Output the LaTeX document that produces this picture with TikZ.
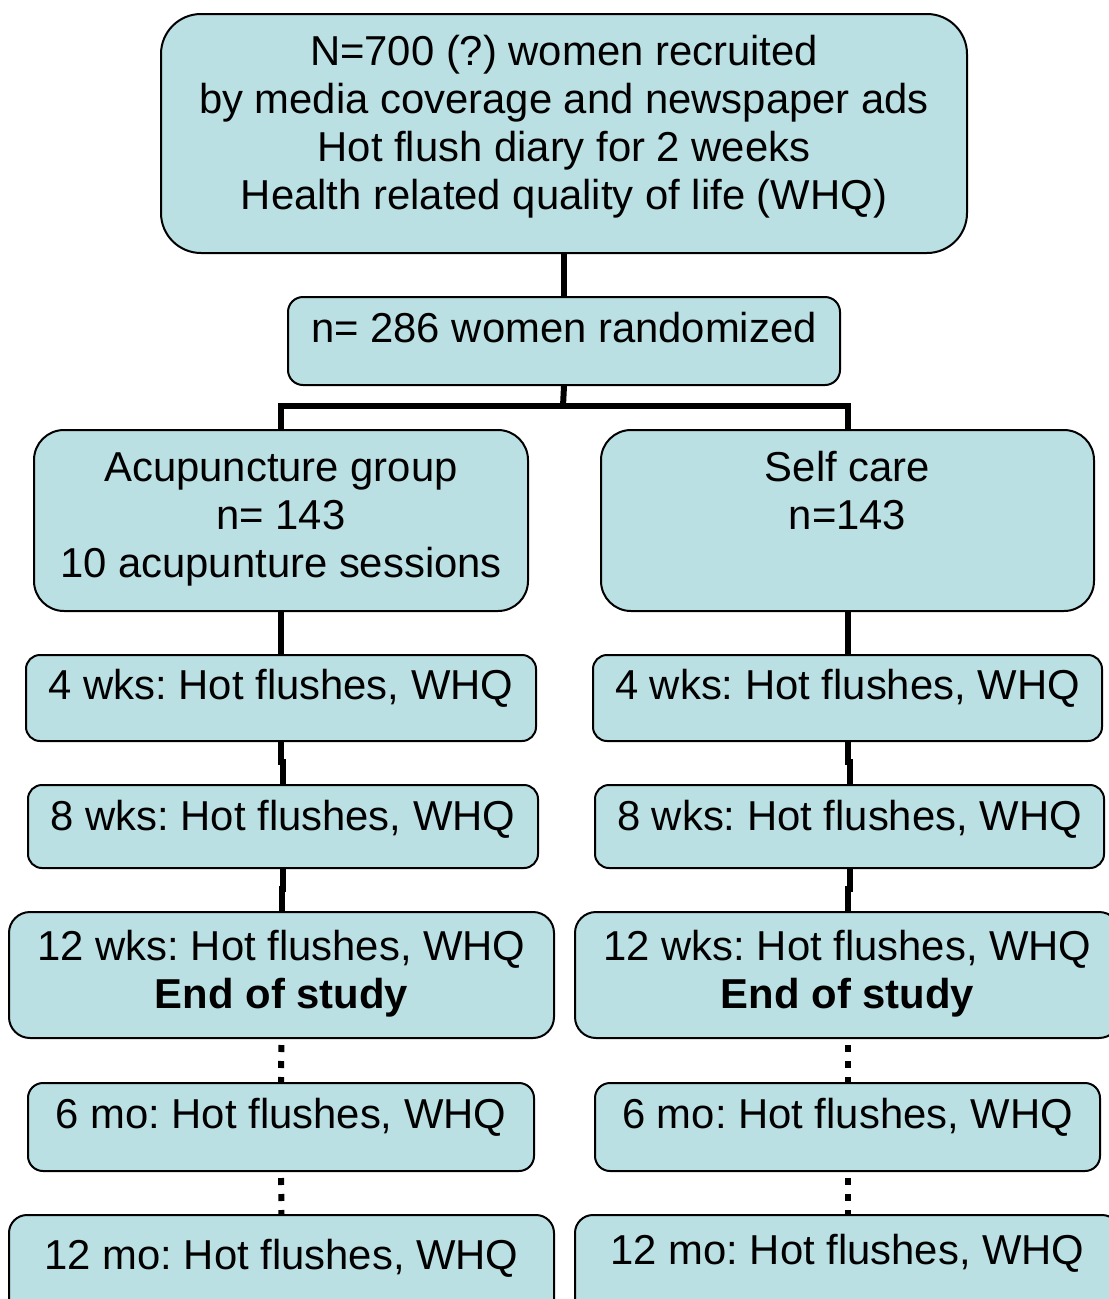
\documentclass[tikz,border=0pt]{standalone}
\usepackage{fontspec}
\setmainfont{Liberation Sans}
\usepackage{tikz}
\definecolor{boxfill}{RGB}{186,224,227}
\newlength{\px}
\setlength{\px}{0.02cm}
\newcommand{\boxtxt}[4]{\parbox[t][#2\px][t]{#1\px}{\centering\frenchspacing\vspace*{#3\px}\strut #4}}

\begin{document}
\begin{tikzpicture}[x=0.02cm,y=-0.02cm,
	box/.style={draw=black, fill=boxfill, line width=2\px, inner sep=0pt, anchor=north west, font=\fontsize{23.8}{27.3}\selectfont},
	thickline/.style={line width=6\px},
	dotline/.style={line width=6\px, dash pattern=on 0.14cm off 0.18cm, dash phase=0.2cm}]
	%\draw[help lines] (0,0) grid[step=100] (1100,1300);
	\useasboundingbox (0,0) rectangle (1109,1299);
	\node[box, rounded corners=40\px] (top) at (160,13) {\boxtxt{806}{239}{18}{N=700 (?) women recruited\\by media coverage and newspaper ads\\Hot flush diary for 2 weeks\\Health related quality of life (WHQ)}};
	\node[box, rounded corners=15\px] (rand) at (287,296) {\boxtxt{552}{88}{12}{n= 286 women randomized}};
	\node[box, rounded corners=30\px] (acu) at (33,429) {\boxtxt{494}{181}{18}{Acupuncture group\\n= 143\\10 acupunture sessions}};
	\node[box, rounded corners=30\px] (self) at (600,429) {\boxtxt{493}{181}{18}{Self care\\n=143}};
	\node[box, rounded corners=14\px] (w4L) at (25,654) {\boxtxt{510}{86}{11}{4 wks: Hot flushes, WHQ}};
	\node[box, rounded corners=14\px] (w4R) at (592,654) {\boxtxt{509}{86}{11}{4 wks: Hot flushes, WHQ}};
	\node[box, rounded corners=14\px] (w8L) at (27,784) {\boxtxt{510}{83}{12}{8 wks: Hot flushes, WHQ}};
	\node[box, rounded corners=14\px] (w8R) at (594,784) {\boxtxt{509}{83}{12}{8 wks: Hot flushes, WHQ}};
	\node[box, rounded corners=21\px] (w12L) at (8,911) {\boxtxt{545}{126}{15}{12 wks: Hot flushes, WHQ\\\textbf{End of study}}};
	\node[box, rounded corners=21\px] (w12R) at (574,911) {\boxtxt{545}{126}{15}{12 wks: Hot flushes, WHQ\\\textbf{End of study}}};
	\node[box, rounded corners=15\px] (m6L) at (27,1082) {\boxtxt{506}{88}{12}{6 mo: Hot flushes, WHQ}};
	\node[box, rounded corners=15\px] (m6R) at (594,1082) {\boxtxt{505}{88}{12}{6 mo: Hot flushes, WHQ}};
	\node[box, rounded corners=18\px] (m12L) at (8,1214) {\boxtxt{545}{110}{21}{12 mo: Hot flushes, WHQ}};
	\node[box, rounded corners=18\px] (m12R) at (574,1214) {\boxtxt{545}{110}{16}{12 mo: Hot flushes, WHQ}};
	\coordinate (split) at (563,406);
	\draw[thickline] (top.south) -- (rand.north);
	\draw[thickline] (rand.south) -- (split);
	\draw[thickline] (acu.north) |- (split) -| (self.north);
	\draw[thickline] (acu.south) -- (w4L.north);
	\draw[thickline] (self.south) -- (w4R.north);
	\draw[thickline] (w4L.south) -- ++(0,20) -| (w8L.north);
	\draw[thickline] (w4R.south) -- ++(0,20) -| (w8R.north);
	\draw[thickline] (w8L.south) -- ++(0,20) -| (w12L.north);
	\draw[thickline] (w8R.south) -- ++(0,20) -| (w12R.north);
	\draw[dotline] (w12L.south) -- (m6L.north);
	\draw[dotline] (w12R.south) -- (m6R.north);
	\draw[dotline] (m6L.south) -- (m12L.north);
	\draw[dotline] (m6R.south) -- (m12R.north);
\end{tikzpicture}
\end{document}
